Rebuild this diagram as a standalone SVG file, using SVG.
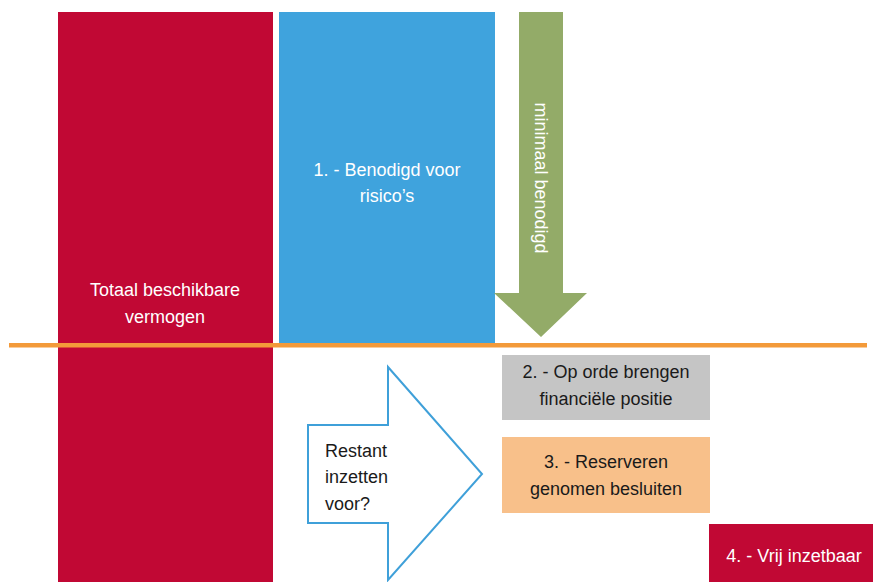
<svg xmlns="http://www.w3.org/2000/svg" width="873" height="582" viewBox="0 0 873 582">
<style>
text{font-family:"Liberation Sans",Arial,sans-serif;font-size:18px}
.w{fill:#ffffff}
.d{fill:#1a1a1a}
.c{text-anchor:middle}
</style>
<rect width="873" height="582" fill="#ffffff"/>
<g id="totaal">
<rect x="58" y="12" width="215" height="570" fill="#c10834"/>
<text class="w c" x="165" y="296">Totaal beschikbare</text>
<text class="w c" x="165" y="323">vermogen</text>
</g>
<g id="benodigd">
<rect x="279" y="12" width="216" height="331" fill="#3fa3dd"/>
<text class="w c" x="387" y="176">1. - Benodigd voor</text>
<text class="w c" x="387" y="202">risico’s</text>
</g>
<g id="minimaal">
<polygon points="519,12 563,12 563,293 587,293 541,337 494,293 519,293" fill="#93ab68"/>
<text class="w c" transform="translate(535,178) rotate(90)" x="0" y="0">minimaal benodigd</text>
</g>
<g id="lijn">
<rect x="9" y="343" width="858" height="4.5" fill="#f39a3a"/>
</g>
<g id="restant">
<polygon points="308,425 388,425 388,367 482,474 388,580 388,523 308,523" fill="#ffffff" stroke="#3fa0d9" stroke-width="2"/>
<text class="d" x="325" y="457">Restant</text>
<text class="d" x="325" y="483">inzetten</text>
<text class="d" x="325" y="510">voor?</text>
</g>
<g id="positie">
<rect x="502" y="355" width="208" height="65" fill="#c5c5c5"/>
<text class="d c" x="606" y="378">2. - Op orde brengen</text>
<text class="d c" x="606" y="405">financiële positie</text>
</g>
<g id="reserveren">
<rect x="502" y="437" width="208" height="76" fill="#f8c08a"/>
<text class="d c" x="606" y="468">3. - Reserveren</text>
<text class="d c" x="606" y="495">genomen besluiten</text>
</g>
<g id="vrij">
<rect x="709" y="524" width="164" height="58" fill="#c10834"/>
<text class="w c" x="794" y="562">4. - Vrij inzetbaar</text>
</g>
<g id="connectors"></g>
</svg>
